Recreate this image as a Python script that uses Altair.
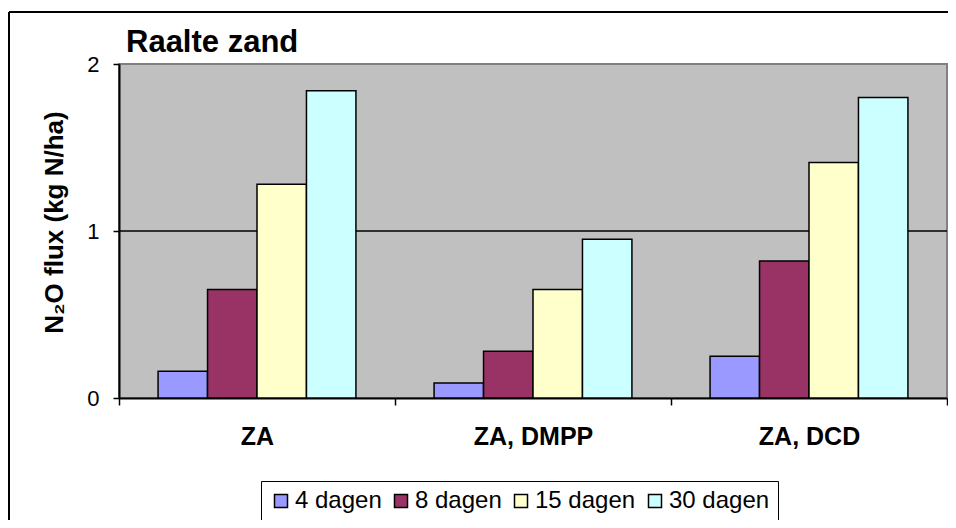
import altair as alt
import pandas as pd

categories = ["ZA", "ZA, DMPP", "ZA, DCD"]
series = ["4 dagen", "8 dagen", "15 dagen", "30 dagen"]
colors = ["#9999FF", "#993366", "#FFFFCC", "#CCFFFF"]
v_4 = [0.16, 0.09, 0.25]
v_8 = [0.65, 0.28, 0.82]
v_15 = [1.28, 0.65, 1.41]
v_30 = [1.84, 0.95, 1.80]
y_ticks = [0, 1, 2]
grid_lines = [1]
chart_title = "Raalte zand"
y_title = "N₂O flux (kg N/ha)"

rows = []
for s, vals in zip(series, [v_4, v_8, v_15, v_30]):
    for c, v in zip(categories, vals):
        rows.append({"cat": c, "series": s, "value": v})
df = pd.DataFrame(rows)

FONT = "Liberation Sans"
W, H = 828, 334

y_scale = alt.Scale(domain=[0, 2], nice=False)

bars = alt.Chart(df).mark_bar(stroke="black", strokeWidth=1.5).encode(
    x=alt.X("cat:N", sort=categories,
            scale=alt.Scale(paddingInner=0, paddingOuter=0),
            axis=alt.Axis(title=None, labelAngle=0, labelFontSize=25, labelFontWeight="bold",
                          labelFont=FONT, labelColor="black", labelPadding=19,
                          tickBand="extent", tickSize=7, tickColor="black", tickWidth=1.5,
                          domainColor="black", domainWidth=2, grid=False)),
    xOffset=alt.XOffset("series:N", sort=series,
                        scale=alt.Scale(paddingInner=0, paddingOuter=0.79)),
    y=alt.Y("value:Q", scale=y_scale,
            axis=alt.Axis(values=y_ticks, labelExpr="format(datum.value, '.0f')", title=y_title,
                          titleFont=FONT, titleFontSize=26, titleFontWeight="bold",
                          titleColor="black", titleAngle=270, titleX=-52, titleY=158,
                          titleAlign="center", titleBaseline="bottom",
                          labelFont=FONT, labelFontSize=22, labelColor="black", labelPadding=14,
                          tickSize=6, tickColor="black", tickWidth=1.5,
                          domainColor="black", domainWidth=2, grid=False)),
    color=alt.Color("series:N", sort=series,
                    scale=alt.Scale(domain=series, range=colors),
                    legend=alt.Legend(title=None, orient="none", legendX=142, legendY=417,
                                      direction="horizontal", strokeColor="black",
                                      fillColor="white", padding=8,
                                      labelFont=FONT, labelFontSize=24, labelColor="black",
                                      labelOffset=2, columnPadding=7,
                                      symbolType="square", symbolSize=169,
                                      symbolStrokeColor="black", symbolStrokeWidth=1.5,
                                      symbolOpacity=1)),
)

grid = alt.Chart(pd.DataFrame({"g": grid_lines})).mark_rule(
    color="black", strokeWidth=1.5
).encode(y=alt.Y("g:Q", scale=y_scale))

title_text = alt.Chart(pd.DataFrame({"t": [chart_title]})).mark_text(
    align="left", baseline="alphabetic", fontSize=31, fontWeight="bold", font=FONT, color="black"
).encode(text="t:N", x=alt.value(7), y=alt.value(-12))

frame_top = alt.Chart(pd.DataFrame({"a": [0]})).mark_rule(color="black", strokeWidth=2).encode(
    x=alt.value(-110), x2=alt.value(829), y=alt.value(-52))
frame_left = alt.Chart(pd.DataFrame({"a": [0]})).mark_rule(color="black", strokeWidth=2).encode(
    x=alt.value(-110), x2=alt.value(-110), y=alt.value(-52), y2=alt.value(456))

chart = alt.layer(frame_top, frame_left, grid, bars, title_text).properties(
    width=W, height=H,
    autosize=alt.AutoSizeParams(type="none"),
    padding={"left": 111, "top": 56, "right": 1, "bottom": 122},
    background="white",
).configure_view(fill="#C0C0C0", stroke="#808080", strokeWidth=2)

chart.save("out.html", embed_options={"renderer": "svg", "actions": False})
